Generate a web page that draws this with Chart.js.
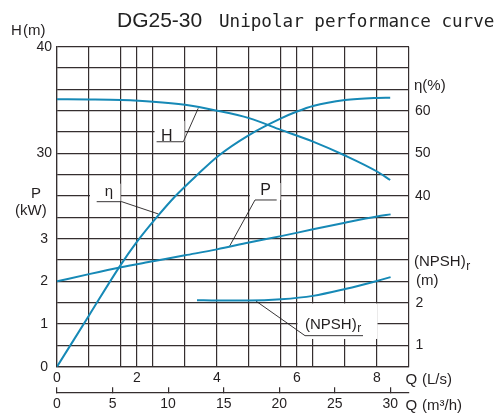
<!DOCTYPE html>
<html><head><meta charset="utf-8">
<script src="https://cdn.jsdelivr.net/npm/chart.js@4.4.1/dist/chart.umd.min.js"></script>
<style>html,body{margin:0;padding:0;background:#fff;}#wrap{width:497px;height:415px;}</style>
</head><body><div id="wrap"><canvas id="c" width="497" height="415"></canvas></div>
<script>
// ---- data (Q in L/s) ----
const hQ    = [0, 0.8, 1.6, 2.4, 3.2, 4.0, 4.8, 5.6, 6.4, 7.2, 8.0, 8.33];
const hHead = [35.07, 35.05, 35.0, 34.85, 34.55, 34.0, 33.3, 32.2, 31.1, 29.8, 28.3, 27.5];
const etaQ   = [0, 0.8, 1.56, 2.0, 2.49, 2.95, 3.51, 4.03, 4.8, 5.6, 6.0, 6.4, 7.2, 8.0, 8.33];
const etaEff = [0, 12.0, 23.4, 29.3, 35.0, 39.9, 45.0, 49.4, 54.3, 58.2, 59.8, 61.1, 62.5, 63.0, 63.05];
const pQ     = [0, 0.8, 1.6, 2.4, 3.2, 4.0, 4.8, 5.6, 6.4, 7.2, 8.0, 8.34];
const pPower = [2.0, 2.17, 2.33, 2.47, 2.61, 2.75, 2.91, 3.06, 3.22, 3.375, 3.52, 3.57];
const npshQ   = [3.5, 4.0, 4.8, 5.6, 6.4, 7.2, 8.0, 8.34];
const npshReq = [2.06, 2.05, 2.05, 2.08, 2.16, 2.32, 2.51, 2.60];

// ---- ticks / grid ----
const gridQ     = [0, 0.8, 1.6, 2, 2.4, 3.2, 4, 4.8, 5.6, 6, 6.4, 7.2, 8, 8.8];
const qLsTicks  = [0, 2, 4, 6, 8];
const qM3hTicks = [0, 5, 10, 15, 20, 25, 30];
const hTicks    = [30, 40];
const pTicks    = [0, 1, 2, 3];
const etaTicks  = [40, 50, 60];
const npshTicks = [1, 2];

const gridColor = '#352e2f';
const curveColor = '#1689b6';
const textColor = '#231f20';
const sans = '"Liberation Sans", Arial, sans-serif';
const tickFont = {family: sans, size: 14};

const pts = (xs, ys) => xs.map((q, i) => ({x: q, y: ys[i]}));

// annotation geometry in data coordinates (Q, H-scale)
const annotations = [
  {text: 'H', size: 16, textAt: [2.742, 31.6], underline: [2.49, 3.158, 31.09], from: 1, leader: [3.53, 34.22], box: [2.4375, 3.1875, 33.03, 31.07]},
  {text: 'η', size: 15, textAt: [1.30, 26.4], underline: [0.9925, 1.6175, 25.47], from: 1, leader: [2.5325, 24.32], box: [0.825, 1.5875, 27.16, 25.49]},
  {text: 'P', size: 16, textAt: [5.2125, 26.47], underline: [4.95, 5.4925, 25.63], from: 0, leader: [4.3075, 21.25], box: [4.825, 5.5875, 27.22, 25.63]},
  {text: '(NPSH)', sub: 'r', size: 15, left: true, textAt: [6.2, 13.91], underline: [6.2, 7.65, 12.91], from: 0, leader: [4.975, 16.15], box: [6.0125, 8.0125, 15.93, 12.60]}
];

const decor = {
  id: 'decor',
  beforeDatasetsDraw(chart) {
    const {ctx, scales: {x, yH}} = chart;
    const px = q => x.getPixelForValue(q), py = h => yH.getPixelForValue(h);
    ctx.save();
    ctx.fillStyle = '#fff';
    for (const a of annotations) {
      const [q1, q2, h1, h2] = a.box;
      ctx.fillRect(px(q1), py(h1), px(q2) - px(q1), py(h2) - py(h1));
    }
    ctx.strokeStyle = textColor; ctx.lineWidth = 0.9;
    for (const a of annotations) {
      const [u1, u2, uh] = a.underline;
      const s = a.from ? u2 : u1;
      ctx.beginPath();
      ctx.moveTo(px(u1), py(uh)); ctx.lineTo(px(u2), py(uh));
      ctx.moveTo(px(s), py(uh)); ctx.lineTo(px(a.leader[0]), py(a.leader[1]));
      ctx.stroke();
    }
    ctx.fillStyle = textColor; ctx.textBaseline = 'middle';
    for (const a of annotations) {
      ctx.font = a.size + 'px ' + sans;
      const tx = px(a.textAt[0]), ty = py(a.textAt[1]);
      if (a.left) {
        ctx.textAlign = 'left';
        ctx.fillText(a.text, tx, ty);
        const w = ctx.measureText(a.text).width;
        ctx.font = '12px ' + sans;
        ctx.fillText(a.sub, tx + w + 0.5, ty + 4);
      } else {
        ctx.textAlign = 'center';
        ctx.fillText(a.text, tx, ty);
      }
    }
    ctx.restore();
  },
  afterDraw(chart) {
    const {ctx} = chart;
    ctx.save();
    ctx.textBaseline = 'alphabetic'; ctx.textAlign = 'left';
    // title
    ctx.fillStyle = '#222';
    ctx.font = '21px ' + sans;
    ctx.fillText('DG25-30', 117, 26.5);
    ctx.font = '17.6px "DejaVu Sans Mono", monospace';
    ctx.fillText('Unipolar performance curve', 219, 26.5);
    ctx.fillStyle = textColor;
    // axis names
    ctx.font = '15px ' + sans;
    ctx.fillText('H', 11, 35);
    ctx.fillText('(m)', 23, 35);
    ctx.fillText('P', 31, 198);
    ctx.fillText('(kW)', 15, 215);
    ctx.fillText('η(%)', 414, 90);
    ctx.fillText('(NPSH)', 414, 266);
    const w = ctx.measureText('(NPSH)').width;
    ctx.font = '12px ' + sans;
    ctx.fillText('r', 414 + w + 0.5, 270);
    ctx.font = '15px ' + sans;
    ctx.fillText('(m)', 416, 284.5);
    ctx.fillText('Q', 405.5, 383.5);
    ctx.fillText('(L/s)', 422, 383.5);
    ctx.fillText('Q', 405.5, 409.5);
    ctx.fillText('(m³/h)', 422, 409.5);
    ctx.restore();
  }
};

const lineDs = (data, axis) => ({
  data, yAxisID: axis, borderColor: curveColor, borderWidth: 2, pointRadius: 0,
  fill: false, cubicInterpolationMode: 'monotone'
});

new Chart(document.getElementById('c'), {
  type: 'line',
  data: {
    datasets: [
      lineDs(pts(hQ, hHead), 'yH'),
      lineDs(pts(etaQ, etaEff), 'yEta'),
      lineDs(pts(pQ, pPower), 'yP'),
      lineDs(pts(npshQ, npshReq), 'yN')
    ]
  },
  options: {
    responsive: false, animation: false, devicePixelRatio: 1,
    layout: {padding: {top: 46.7, left: 0, right: 0, bottom: 0}},
    plugins: {legend: {display: false}, tooltip: {enabled: false}, title: {display: false}},
    scales: {
      x: {
        type: 'linear', position: 'bottom', min: 0, max: 8.8,
        afterBuildTicks: s => { s.ticks = gridQ.map(v => ({value: v})); },
        afterFit: s => { s.height = 25.6; },
        ticks: {autoSkip: false, maxRotation: 0, padding: 2.6, color: textColor, font: tickFont,
          callback: v => qLsTicks.includes(v) ? String(v) : ''},
        grid: {color: gridColor, lineWidth: 1.2, drawTicks: false},
        border: {color: gridColor, width: 1.2}
      },
      x2: {
        type: 'linear', position: 'bottom', min: 0, max: 31.68,
        afterBuildTicks: s => { s.ticks = qM3hTicks.map(v => ({value: v})); },
        afterFit: s => { s.height = 22.7; },
        ticks: {autoSkip: false, maxRotation: 0, padding: 8.3, color: textColor, font: tickFont},
        grid: {drawOnChartArea: false, drawTicks: true, tickLength: -5, color: gridColor, lineWidth: 1.2},
        border: {display: true, color: gridColor, width: 1.2}
      },
      yH: {
        type: 'linear', position: 'left', min: 10, max: 40,
        afterFit: s => { s.width = 57; },
        ticks: {stepSize: 2, autoSkip: false, padding: 5, color: textColor, font: tickFont,
          callback: v => hTicks.includes(v) ? String(v) : ''},
        grid: {color: gridColor, lineWidth: 1.2, drawTicks: false},
        border: {color: gridColor, width: 1.2}
      },
      yP: {
        type: 'linear', position: {x: -0.225}, min: 0, max: 7.5,
        afterBuildTicks: s => { s.ticks = pTicks.map(v => ({value: v})); },
        ticks: {autoSkip: false, padding: 0, color: textColor, font: tickFont},
        grid: {display: false, drawTicks: false},
        border: {display: false}
      },
      yEta: {
        type: 'linear', position: 'right', min: 0, max: 75,
        afterBuildTicks: s => { s.ticks = etaTicks.map(v => ({value: v})); },
        afterFit: s => { s.width = 88; },
        ticks: {autoSkip: false, padding: 6, color: textColor, font: tickFont},
        grid: {display: false, drawTicks: false},
        border: {display: false}
      },
      yN: {
        type: 'linear', position: {x: 9.16}, min: 0.5, max: 8,
        afterBuildTicks: s => { s.ticks = npshTicks.map(v => ({value: v})); },
        ticks: {autoSkip: false, padding: 0, color: textColor, font: tickFont},
        grid: {display: false, drawTicks: false},
        border: {display: false}
      }
    }
  },
  plugins: [decor]
});
</script>
</body></html>
